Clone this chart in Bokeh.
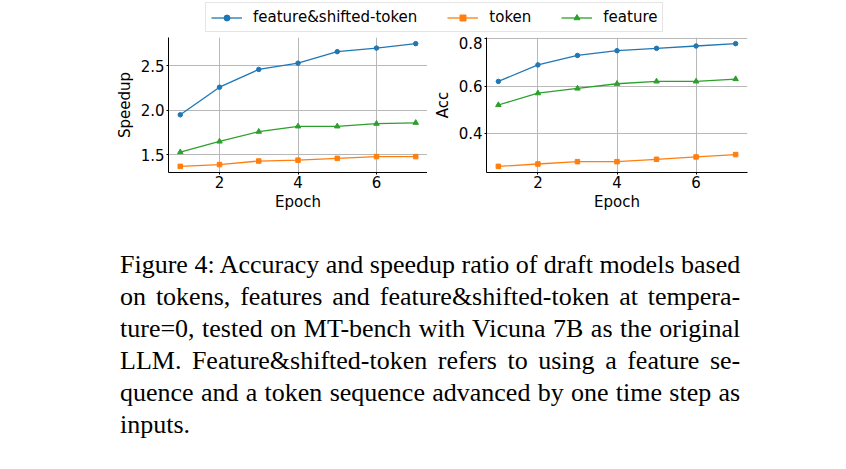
from html import escape
from bokeh.plotting import figure
from bokeh.models import ColumnDataSource, FixedTicker, Legend, LegendItem, Div, Range1d
from bokeh.layouts import column, row
from bokeh.embed import file_html
from bokeh.resources import INLINE

# ---- data ----
epochs = [1, 2, 3, 4, 5, 6, 7]
speedup_fst = [1.95, 2.26, 2.46, 2.53, 2.66, 2.70, 2.75]
speedup_token = [1.37, 1.39, 1.43, 1.44, 1.46, 1.48, 1.48]
speedup_feature = [1.53, 1.65, 1.76, 1.82, 1.82, 1.85, 1.86]
acc_fst = [0.62, 0.69, 0.73, 0.75, 0.76, 0.77, 0.78]
acc_token = [0.26, 0.27, 0.28, 0.28, 0.29, 0.30, 0.31]
acc_feature = [0.52, 0.57, 0.59, 0.61, 0.62, 0.62, 0.63]
series_names = ["feature&shifted-token", "token", "feature"]
x_ticks = [2, 4, 6]
speedup_ticks = [1.5, 2.0, 2.5]
speedup_tick_labels = ["1.5", "2.0", "2.5"]
acc_ticks = [0.4, 0.6, 0.8]
acc_tick_labels = ["0.4", "0.6", "0.8"]
caption_lines = [
    "Figure 4: Accuracy and speedup ratio of draft models based",
    "on tokens, features and feature&shifted-token at tempera-",
    "ture=0, tested on MT-bench with Vicuna 7B as the original",
    "LLM. Feature&shifted-token refers to using a feature se-",
    "quence and a token sequence advanced by one time step as",
    "inputs.",
]

# ---- styles ----
colors = ["#1f77b4", "#ff7f0e", "#2ca02c"]
markers = ["circle", "square", "triangle"]
msizes = [4.5, 4.5, 5.5]
LW = 1.3
FONT = "DejaVu Sans"


def padded(vals, frac=0.05):
    lo, hi = min(vals), max(vals)
    d = (hi - lo) * frac
    return Range1d(lo - d, hi + d)


def make_panel(ylabel, series, yticks, ylabels, left_border, right_border, fw):
    p = figure(
        frame_width=fw,
        frame_height=135,
        min_border_left=left_border,
        min_border_right=right_border,
        min_border_top=1,
        min_border_bottom=77,
        x_range=padded(epochs),
        y_range=padded([v for s in series for v in s]),
        toolbar_location=None,
        output_backend="svg",
        background_fill_color="white",
        border_fill_color="white",
    )
    p.outline_line_color = None
    for vals, c, m, ms in zip(series, colors, markers, msizes):
        src = ColumnDataSource(dict(x=epochs, y=vals))
        p.line("x", "y", source=src, line_color=c, line_width=LW)
        p.scatter("x", "y", source=src, marker=m, size=ms, fill_color=c, line_color=c)
    p.xaxis.ticker = FixedTicker(ticks=x_ticks)
    p.yaxis.ticker = FixedTicker(ticks=yticks)
    p.yaxis.major_label_overrides = {t: l for t, l in zip(yticks, ylabels)}
    p.xaxis.major_label_overrides = {t: str(t) for t in x_ticks}
    for ax in (p.xaxis[0], p.yaxis[0]):
        ax.axis_line_color = "black"
        ax.axis_line_width = 1
        ax.major_tick_line_color = "black"
        ax.major_tick_out = 2
        ax.major_tick_in = 0
        ax.minor_tick_line_color = None
        ax.major_label_text_font = FONT
        ax.major_label_text_font_size = "15px"
        ax.major_label_text_color = "black"
        ax.axis_label_text_font = FONT
        ax.axis_label_text_font_size = "15px"
        ax.axis_label_text_font_style = "normal"
        ax.axis_label_text_color = "black"
    p.xaxis.axis_label = "Epoch"
    p.yaxis.axis_label = ylabel
    p.xaxis.major_label_standoff = 1
    p.yaxis.major_label_standoff = 2
    p.xaxis.axis_label_standoff = 2
    p.yaxis.axis_label_standoff = 4
    p.grid.grid_line_color = "#b8b8b8"
    p.grid.grid_line_width = 1
    p.xgrid.ticker = FixedTicker(ticks=x_ticks)
    p.ygrid.ticker = FixedTicker(ticks=yticks)
    return p


p1 = make_panel("Speedup", [speedup_fst, speedup_token, speedup_feature],
                speedup_ticks, speedup_tick_labels, 168, 0, 259)
p2 = make_panel("Acc", [acc_fst, acc_token, acc_feature],
                acc_ticks, acc_tick_labels, 59, 10, 261)

# ---- legend strip (series drawn outside its visible range; only legend shows) ----
lf = figure(width=770, height=36, x_range=Range1d(-100, -99), y_range=Range1d(-100, -99),
            min_border=0, toolbar_location=None, output_backend="svg",
            x_axis_location=None, y_axis_location=None)
lf.outline_line_color = None
lf.grid.visible = False
items = []
for name, vals, c, m, ms in zip(series_names, [speedup_fst, speedup_token, speedup_feature],
                                colors, markers, msizes):
    src = ColumnDataSource(dict(x=epochs, y=vals))
    lr = lf.line("x", "y", source=src, line_color=c, line_width=LW)
    sr = lf.scatter("x", "y", source=src, marker=m, size=ms, fill_color=c, line_color=c)
    items.append(LegendItem(label=name, renderers=[lr, sr]))
legend = Legend(
    items=items, location=(205, 4), orientation="horizontal",
    label_text_font=FONT, label_text_font_size="15px", label_text_color="black",
    glyph_width=31, glyph_height=15, label_standoff=11, spacing=30,
    padding=5, margin=0, border_line_color="#cccccc", border_line_width=1,
    background_fill_color="white", background_fill_alpha=1.0,
)
lf.add_layout(legend)

# ---- caption ----
n = len(caption_lines)
html = "".join(
    '<div style="text-align:justify;text-align-last:%s;">%s</div>'
    % ("justify" if i < n - 1 else "left", escape(line))
    for i, line in enumerate(caption_lines)
)
cap = Div(
    text=html, width=646, margin=(0, 0, 0, 120),
    styles={"font-family": "'Liberation Serif', 'Times New Roman', serif",
            "font-size": "26px", "line-height": "32px", "color": "black"},
)

layout = column(lf, row(p1, p2), cap)
open("out.html", "w").write(file_html(layout, INLINE))
